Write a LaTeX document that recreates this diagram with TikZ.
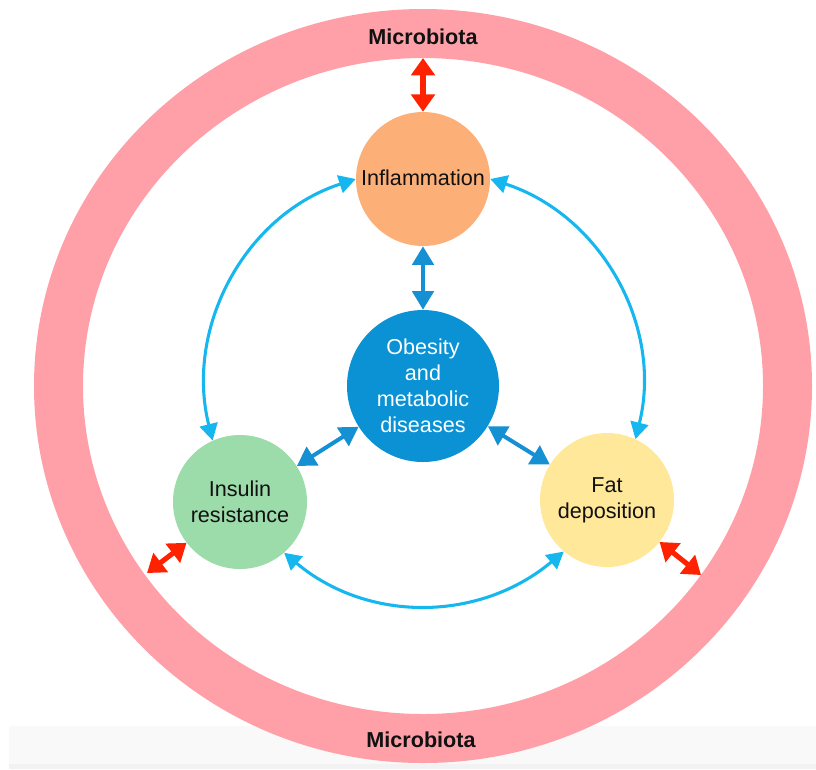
\documentclass[tikz,border=0pt]{standalone}
\usepackage{fontspec}
\setmainfont{Liberation Sans}
\usetikzlibrary{arrows.meta}
\definecolor{ringc}{HTML}{FFA0A8}
\definecolor{inflc}{HTML}{FDAF78}
\definecolor{obesc}{HTML}{0A92D5}
\definecolor{insc}{HTML}{9CDBAA}
\definecolor{fatc}{HTML}{FFE899}
\definecolor{redc}{HTML}{FF2200}
\definecolor{lblue}{HTML}{16B7EE}
\definecolor{dblue}{HTML}{1590D3}
\definecolor{bandc}{HTML}{F9F9F9}
\definecolor{bandd}{HTML}{F2F2F2}
\definecolor{txt}{HTML}{111111}
\begin{document}
\begin{tikzpicture}[x=0.75pt,y=0.75pt,
  bub/.style={circle, inner sep=0pt, minimum size=100.5pt, align=center,
    font=\fontsize{16.2}{19.5}\selectfont, text=txt},
  lbarrow/.style={draw=lblue, line width=2.3pt,
    {Triangle[length=12.5pt,width=13.5pt]}-{Triangle[length=12.5pt,width=13.5pt]}},
  dbarrow/.style={draw=dblue, line width=3pt,
    {Triangle[length=14pt,width=16pt]}-{Triangle[length=14pt,width=16pt]}},
  redarrow/.style={draw=redc, line width=3.8pt,
    {Triangle[length=13pt,width=17.5pt]}-{Triangle[length=13pt,width=17.5pt]}},
  lab/.style={font=\fontsize{16.2}{19.5}\selectfont\bfseries, text=txt}]
\useasboundingbox (0,0) rectangle (816,-769);
% bottom band
\fill[bandc] (9,-726) rectangle (816,-769);
\fill[bandd] (9,-764) rectangle (816,-769);
% ring
\fill[ringc, even odd rule] (423,-386) ellipse [x radius=389, y radius=377]
  (423,-386) ellipse [x radius=340, y radius=328];
\node[lab] (mtop) at (423,-37) {Microbiota};
\node[lab] (mbot) at (421,-740) {Microbiota};
% bubbles
\node[bub, fill=inflc] (infl) at (423,-179) {\raisebox{2.25pt}{Inflammation}};
\node[bub, fill=obesc, minimum size=114pt, text=white] (obes) at (423,-386)
  {Obesity\\and\\metabolic\\diseases};
\node[bub, fill=insc] (ins) at (240,-502) {Insulin\\resistance};
\node[bub, fill=fatc] (fat) at (607,-500) {Fat\\deposition};
% ring contact points
\coordinate (rt) at (423,-58);
\coordinate (rl) at (147,-573);
\coordinate (rr) at (701,-575);
% red arrows
\draw[redarrow] (rt) -- (infl);
\draw[redarrow] (rl) -- (ins);
\draw[redarrow] (rr) -- (fat);
% dark blue arrows
\draw[dbarrow] (infl) -- (obes);
\draw[dbarrow] (obes) -- (ins);
\draw[dbarrow] (obes) -- (fat);
% light blue arcs
\draw[lbarrow] (infl.180) to[out=198, in=104] (ins.114);
\draw[lbarrow] (infl.0) to[out=-18, in=76] (fat.65);
\draw[lbarrow] (ins.-49) to[out=320, in=220] (fat.230);
\end{tikzpicture}
\end{document}
